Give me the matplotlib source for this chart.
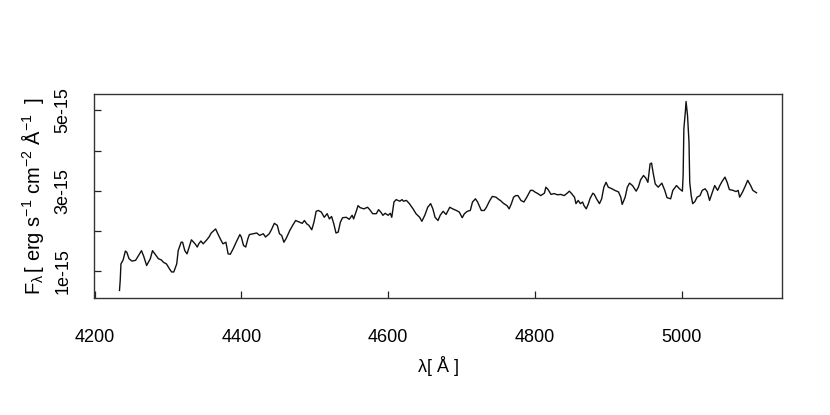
import matplotlib
matplotlib.use("Agg")
import matplotlib.pyplot as plt
from matplotlib.ticker import FixedLocator, FixedFormatter

plt.rcParams['font.family'] = ['Liberation Sans', 'DejaVu Sans']
plt.rcParams['mathtext.fontset'] = 'custom'
plt.rcParams['mathtext.rm'] = 'Liberation Sans'
plt.rcParams['mathtext.it'] = 'Liberation Sans:italic'

# wavelength in Angstrom
wavelength = [
    4234, 4235, 4236, 4239, 4242, 4244, 4247, 4251, 4256, 4260, 4264, 4267, 4271, 4276, 4279,
    4283, 4287, 4291, 4294, 4298, 4302, 4305, 4308, 4312, 4314, 4318, 4320, 4323, 4326, 4329,
    4332, 4335, 4337, 4340, 4342, 4345, 4348, 4353, 4356, 4359, 4365, 4368, 4372, 4375, 4379,
    4382, 4385, 4389, 4393, 4398, 4400, 4403, 4406, 4409, 4411, 4416, 4421, 4425, 4430, 4433,
    4438, 4441, 4445, 4449, 4452, 4455, 4458, 4461, 4466, 4470, 4474, 4479, 4483, 4486, 4489,
    4492, 4496, 4499, 4502, 4505, 4509, 4513, 4517, 4520, 4523, 4526, 4529, 4532, 4535, 4538,
    4543, 4547, 4551, 4553, 4557, 4559, 4562, 4567, 4572, 4575, 4579, 4584, 4587, 4590, 4593,
    4596, 4600, 4603, 4605, 4608, 4611, 4616, 4619, 4621, 4625, 4629, 4634, 4638, 4643, 4646,
    4650, 4654, 4658, 4661, 4664, 4668, 4671, 4675, 4679, 4684, 4688, 4693, 4697, 4701, 4704,
    4708, 4712, 4715, 4719, 4722, 4727, 4731, 4734, 4738, 4742, 4747, 4751, 4753, 4757, 4762,
    4765, 4768, 4771, 4774, 4777, 4781, 4785, 4789, 4794, 4797, 4800, 4804, 4808, 4813, 4815,
    4818, 4822, 4826, 4831, 4835, 4840, 4844, 4847, 4850, 4854, 4856, 4859, 4862, 4865, 4867,
    4870, 4873, 4875, 4879, 4881, 4884, 4888, 4891, 4894, 4897, 4900, 4905, 4909, 4914, 4917,
    4919, 4923, 4926, 4929, 4933, 4938, 4941, 4944, 4948, 4951, 4954, 4957, 4959, 4961, 4964,
    4968, 4973, 4977, 4980, 4985, 4988, 4993, 4997, 5001, 5002, 5003, 5005, 5006, 5008, 5010,
    5011, 5013, 5015, 5018, 5021, 5025, 5028, 5032, 5035, 5038, 5042, 5045, 5049, 5052, 5055,
    5059, 5062, 5065, 5070, 5074, 5077, 5079, 5083, 5087, 5090, 5094, 5097, 5102,
]

# flux in units of 1e-15 erg s^-1 cm^-2 A^-1
flux_1e15 = [
    0.52, 0.77, 1.18, 1.28, 1.50, 1.47, 1.31, 1.25, 1.27, 1.39, 1.51, 1.37, 1.14, 1.31, 1.51,
    1.41, 1.31, 1.28, 1.22, 1.18, 1.06, 0.98, 0.98, 1.18, 1.51, 1.72, 1.72, 1.51, 1.43, 1.60,
    1.78, 1.72, 1.68, 1.60, 1.68, 1.75, 1.68, 1.78, 1.85, 1.95, 2.05, 1.93, 1.78, 1.68, 1.72,
    1.43, 1.42, 1.56, 1.72, 1.91, 1.85, 1.64, 1.60, 1.81, 1.91, 1.93, 1.95, 1.89, 1.93, 1.85,
    1.93, 2.03, 2.19, 2.14, 1.93, 1.89, 1.72, 1.81, 2.01, 2.14, 2.26, 2.22, 2.19, 2.26, 2.18,
    2.14, 2.03, 2.22, 2.49, 2.51, 2.47, 2.34, 2.43, 2.30, 2.36, 2.18, 1.95, 1.97, 2.22, 2.33,
    2.34, 2.29, 2.39, 2.30, 2.51, 2.63, 2.58, 2.55, 2.59, 2.53, 2.43, 2.43, 2.53, 2.47, 2.39,
    2.44, 2.39, 2.44, 2.34, 2.72, 2.78, 2.74, 2.78, 2.74, 2.76, 2.68, 2.55, 2.43, 2.34, 2.24,
    2.39, 2.59, 2.68, 2.55, 2.34, 2.26, 2.39, 2.49, 2.41, 2.59, 2.55, 2.51, 2.47, 2.33, 2.43,
    2.49, 2.51, 2.72, 2.80, 2.72, 2.51, 2.51, 2.59, 2.74, 2.86, 2.84, 2.78, 2.76, 2.69, 2.63,
    2.55, 2.68, 2.84, 2.88, 2.88, 2.76, 2.72, 2.84, 3.01, 3.01, 2.97, 2.93, 2.88, 2.94, 3.09,
    3.03, 2.91, 2.93, 2.90, 2.91, 2.88, 2.94, 2.99, 2.93, 2.84, 2.68, 2.76, 2.68, 2.72, 2.63,
    2.55, 2.68, 2.80, 2.94, 2.91, 2.80, 2.68, 2.80, 3.09, 3.21, 3.09, 3.05, 3.01, 2.97, 2.84,
    2.66, 2.84, 3.09, 3.19, 3.13, 2.99, 3.09, 3.27, 3.38, 3.32, 3.21, 3.67, 3.69, 3.46, 3.17,
    3.09, 3.19, 3.01, 2.83, 2.80, 3.01, 3.13, 3.05, 2.99, 3.38, 4.54, 4.96, 5.22, 4.87, 4.21,
    3.21, 2.88, 2.68, 2.73, 2.84, 2.88, 3.01, 3.05, 2.97, 2.76, 2.97, 3.13, 3.01, 3.13, 3.23,
    3.34, 3.21, 3.03, 3.01, 2.98, 3.01, 2.84, 2.97, 3.13, 3.26, 3.13, 3.01, 2.95,
]

xtick_values = [4200, 4400, 4600, 4800, 5000]
xtick_labels = ['4200', '4400', '4600', '4800', '5000']
ytick_values = [1e-15, 2e-15, 3e-15, 4e-15, 5e-15]
ytick_labels = ['1e-15', '', '3e-15', '', '5e-15']

flux = [f * 1e-15 for f in flux_1e15]

fig = plt.figure(figsize=(8.3, 4.15), dpi=100)
ax = fig.add_axes([94 / 830, 1 - 298 / 415, 688 / 830, 204 / 415])

ax.plot(wavelength, flux, color='#111111', lw=1.0)
ax.margins(x=0.04, y=0.04)

ax.xaxis.set_major_locator(FixedLocator(xtick_values))
ax.xaxis.set_major_formatter(FixedFormatter(xtick_labels))
ax.yaxis.set_major_locator(FixedLocator(ytick_values))
ax.yaxis.set_major_formatter(FixedFormatter(ytick_labels))

ax.tick_params(axis='both', direction='in', length=5, width=0.9, color='#222222',
               labelsize=13)
ax.tick_params(axis='x', pad=22)
ax.tick_params(axis='y', pad=16, labelrotation=90)
for lab in ax.get_yticklabels():
    lab.set_va('center')

for sp in ax.spines.values():
    sp.set_color('#333333')
    sp.set_linewidth(1.0)

ax.set_xlabel('λ[ Å ]', fontsize=13)
ax.xaxis.label.set_va('center')
ax.xaxis.set_label_coords(0.5, (298 - 366) / 204)

ax.set_ylabel(r'$\mathrm{F_{\lambda}\,[\ erg\ s^{-1}\ cm^{-2}\ \AA^{-1}\ \ ]}$', fontsize=14.5)
ax.yaxis.label.set_va('center')
ax.yaxis.set_label_coords((33 - 94) / 688, 0.5)

fig.savefig('out.png', dpi=100)
